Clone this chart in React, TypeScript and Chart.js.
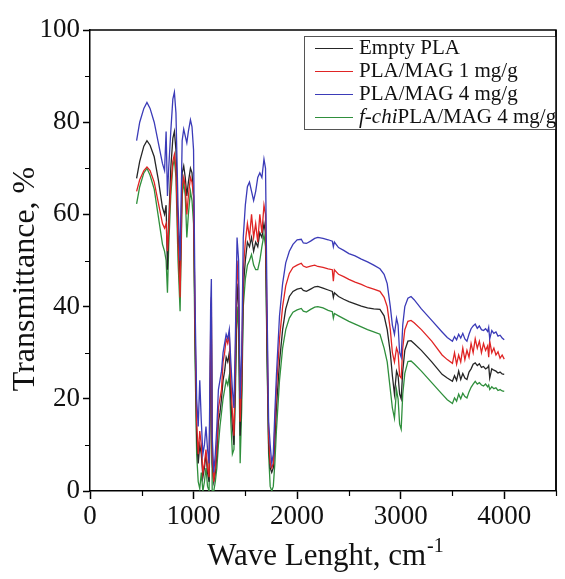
import React, { useEffect, useRef } from 'react';
import { Chart, registerables } from 'chart.js';

Chart.register(...registerables);

// Wavenumber grid (cm-1)
const WAVE = [
  450, 480, 520, 550, 580, 620, 660, 700, 720, 735, 748, 760, 780, 800, 815, 830, 850, 870, 890, 905, 920, 935, 950, 970, 985, 1000,
  1015, 1030, 1045, 1060, 1075, 1090, 1105, 1120, 1135, 1150,
  1165, 1172, 1180, 1195, 1210, 1225, 1240, 1255, 1270, 1285,
  1300, 1315, 1330, 1345, 1360, 1375, 1390, 1405, 1420, 1435,
  1450, 1465, 1480, 1500, 1520, 1540, 1560, 1580, 1600, 1620,
  1640, 1660, 1680, 1695, 1710, 1725, 1740, 1755, 1770, 1785,
  1800,
  1830, 1860, 1890, 1925, 1960, 2000, 2040, 2060, 2090, 2130,
  2170, 2200, 2250, 2300, 2340, 2350, 2360, 2400, 2450, 2500,
  2560, 2620, 2680, 2740, 2800, 2840, 2870, 2900, 2920, 2940,
  2960, 2975, 2990, 3005, 3020, 3040, 3070, 3100, 3130,
  3200, 3300, 3400, 3450, 3500, 3520, 3540, 3560, 3580, 3600,
  3620, 3640, 3660, 3680, 3700, 3720, 3740, 3760, 3780, 3800,
  3820, 3840, 3850, 3860, 3880, 3900, 3920, 3940, 3960, 3980,
  4000,
];

// Empty PLA (black)
const EMPTY_PLA = [
  67.8, 71.5, 74.8, 76, 75, 72.5, 67.5, 61.5, 60, 62, 48, 58, 70, 76.5, 78, 74, 56, 45, 69, 70.5, 68, 64, 67, 70, 69, 64,
  33, 12, 6, 10, 8, 3, 5, 8, 4, 2,
  30, 38, 6, 2, 4, 8, 15, 17, 20, 24,
  26, 29, 28, 30, 20, 14, 10, 26, 45, 40,
  12, 22, 44, 50, 54, 53, 55, 52, 54, 53,
  56, 55, 58, 56, 30, 10, 5, 4, 5, 11,
  18,
  28, 35, 39.5, 42.2, 43.3, 43.8, 44, 43.5, 43.3, 43.8,
  44.3, 44.4, 44, 43.6, 43.3, 42, 43, 42.2, 41.6, 41.1,
  40.6, 40.1, 39.7, 39.5, 39.4, 38, 35, 30, 25, 21,
  26, 25, 21, 20, 26, 30.5, 32.5, 32.6, 32,
  30.5, 28, 25.3, 24.5, 23.8, 25, 24, 26, 24.2, 25.5,
  24.5, 24.2, 25.8, 26.5, 27.5, 27.8, 27.2, 27.6, 26.8, 27,
  26.5, 26.8, 27.2, 24.5, 26.5, 26.2, 26, 25.6, 25.8, 25.4,
  25.3,
];

// PLA/MAG 1 mg/g (red)
const PLA_MAG_1 = [
  65, 67.5, 69.5, 70.3, 69.5, 67, 62.5, 58, 57, 58, 52, 57, 66, 71.5, 73, 70, 54, 42, 66, 68, 66, 60, 64, 68, 67, 64,
  35, 15, 8, 13, 10, 4, 6, 9, 5, 3,
  35, 42, 8, 2, 5, 10, 18, 20, 22, 28,
  30, 33, 32, 34, 24, 17, 12, 30, 50, 44,
  15, 25, 48, 54, 58, 55, 60, 55, 58, 54,
  60, 56, 62, 60, 35, 12, 6, 5, 6, 14,
  22,
  33, 40, 44.5, 47.2, 48.5, 49, 49.4, 48.8, 48.5, 48.8,
  49, 48.7, 48.5, 48.2, 48, 45.5, 48, 47, 46.5, 45.9,
  45.3, 44.8, 44.2, 43.8, 43.3, 42, 40, 35, 30, 28,
  31, 30, 25, 24.5, 31, 35, 36.8, 37, 36.5,
  35, 32.5, 29.5, 28.5, 27.7, 30, 27.5, 29.5, 28, 31,
  28.5, 30.5, 29, 32, 30, 33, 31, 32.5, 30, 32,
  30.5, 31.5, 29, 32.5, 30, 31, 29.5, 30.2, 28.8, 29.5,
  28.6,
];

// PLA/MAG 4 mg/g (blue)
const PLA_MAG_4 = [
  76, 80, 83, 84.3, 83, 80, 75.5, 71, 69.5, 78, 64, 70, 78, 85, 86.5, 82, 62, 50, 76, 78.5, 77, 75.5, 78, 80.5, 79, 74,
  40, 20, 14, 24, 15, 8, 10, 14, 9, 6,
  40, 46, 12, 4, 8, 14, 22, 24, 26, 30,
  32, 34, 33, 35, 28, 22, 18, 35, 55, 50,
  20, 30, 55, 62, 66, 67, 65, 63, 65, 68,
  69, 68, 72, 70, 40, 15, 10, 6, 8, 17,
  25,
  38, 45, 49.5, 52, 53.5, 54.5, 54.6, 53.8, 53.7, 54.2,
  54.8, 55, 54.8, 54.5, 54.2, 53, 54, 52.8, 52.2, 51.5,
  51, 50.3, 49.7, 49, 48.2, 47, 45, 40, 36, 34,
  37.5, 36, 30, 29, 36, 40, 41.8, 42.2, 41.5,
  39.5, 37, 34.5, 33.3, 32.5, 33.5, 32.8, 34, 33.2, 34.2,
  33, 32.5, 34, 35.2, 35.8, 36.2, 35.3, 35.8, 35, 34.8,
  35.2, 34.6, 35.5, 33, 34.8, 34.2, 34.5, 33.6, 33.8, 33.2,
  32.8,
];

// f-chiPLA/MAG 4 mg/g (green)
const FCHI_PLA_MAG_4 = [
  62.3, 66, 69, 70, 68.5, 65.5, 59.5, 53.5, 52, 50, 43, 53, 64, 70.5, 72, 68, 50, 39, 64, 67, 64, 55, 60, 65, 63, 58,
  28, 8, 2, 0.5, 4, 0, 2, 5, 1, 0,
  25, 33, 0, 0, 2, 5, 10, 14, 17, 20,
  22, 24, 23, 25, 15, 8, 9, 22, 40, 35,
  6, 18, 40, 46, 49, 50, 51.3, 49, 48, 48,
  50, 53, 55.6, 53, 28, 8, 1, 0, 1, 6,
  13,
  24, 31, 35, 37.5, 38.8, 39.3, 39.6, 39, 38.8, 39.4,
  39.9, 40, 39.7, 39.2, 38.9, 37.5, 38.5, 38, 37.4, 36.8,
  36.2, 35.6, 35, 34.5, 34, 31, 28, 22, 18, 15.8,
  22, 20, 14.5, 13.4, 21, 25.5, 28.1, 28.2, 27.6,
  26, 23.5, 21, 19.8, 19, 20.2, 19.5, 21, 20, 21.2,
  20.5, 20.2, 21.5, 22.5, 23.2, 23.8, 23.2, 23.5, 23, 22.8,
  23.2, 22.6, 23, 22, 22.6, 22.2, 22.4, 21.8, 22, 21.7,
  21.6,
];

const SERIES_LABELS = ['Empty PLA', 'PLA/MAG 1 mg/g', 'PLA/MAG 4 mg/g', 'f-chiPLA/MAG 4 mg/g'];
const SERIES_COLORS = ['#262626', '#e02424', '#3b3bb8', '#2f8f3c'];
const X_LABELED_TICKS = [0, 1000, 2000, 3000, 4000];
const X_TITLE = 'Wave Lenght, cm';
const X_TITLE_SUP = '-1';
const Y_TITLE = 'Transmittance, %';

const FONT = '"Liberation Serif", "Times New Roman", serif';

const extrasPlugin = {
  id: 'extras',
  afterDraw(chart: any) {
    const { ctx, chartArea: a, scales } = chart;
    ctx.save();
    ctx.strokeStyle = '#000';
    ctx.lineWidth = 1.5;
    // top and right frame
    ctx.beginPath();
    ctx.moveTo(a.left, a.top);
    ctx.lineTo(a.right, a.top);
    ctx.lineTo(a.right, a.bottom);
    ctx.stroke();
    // minor ticks
    ctx.lineWidth = 1.2;
    ctx.beginPath();
    for (let v = 500; v <= 4500; v += 1000) {
      const px = Math.round(scales.x.getPixelForValue(v)) + 0.5;
      ctx.moveTo(px, a.bottom);
      ctx.lineTo(px, a.bottom + 5);
    }
    for (let v = 10; v < 100; v += 20) {
      const py = Math.round(scales.y.getPixelForValue(v)) + 0.5;
      ctx.moveTo(a.left, py);
      ctx.lineTo(a.left - 5, py);
    }
    ctx.stroke();

    // axis titles
    ctx.fillStyle = '#111';
    ctx.font = `31px ${FONT}`;
    const mainW = ctx.measureText(X_TITLE).width;
    ctx.font = `20px ${FONT}`;
    const supW = ctx.measureText(X_TITLE_SUP).width;
    const cx = (a.left + a.right) / 2 + 2;
    const startX = cx - (mainW + supW) / 2;
    ctx.textBaseline = 'alphabetic';
    ctx.textAlign = 'left';
    ctx.font = `31px ${FONT}`;
    ctx.fillText(X_TITLE, startX, 565);
    ctx.font = `20px ${FONT}`;
    ctx.fillText(X_TITLE_SUP, startX + mainW + 1, 552);

    ctx.save();
    ctx.translate(26, 279);
    ctx.rotate(-Math.PI / 2);
    ctx.font = `32px ${FONT}`;
    ctx.textAlign = 'center';
    ctx.textBaseline = 'middle';
    ctx.fillText(Y_TITLE, 0, 0);
    ctx.restore();

    // legend
    const bx = 304, by = 36, bw = 252, bh = 93;
    ctx.fillStyle = '#fff';
    ctx.fillRect(bx, by, bw, bh);
    ctx.strokeStyle = '#555';
    ctx.lineWidth = 1;
    ctx.strokeRect(bx + 0.5, by + 0.5, bw, bh);
    const rows = [48, 71, 94, 117];
    SERIES_LABELS.forEach((label, i) => {
      const y = rows[i];
      ctx.strokeStyle = SERIES_COLORS[i];
      ctx.lineWidth = 1.2;
      ctx.beginPath();
      ctx.moveTo(315, y + 0.5);
      ctx.lineTo(353, y + 0.5);
      ctx.stroke();
      ctx.fillStyle = '#111';
      ctx.textAlign = 'left';
      ctx.textBaseline = 'middle';
      if (label.startsWith('f-chi')) {
        ctx.font = `italic 21px ${FONT}`;
        ctx.fillText('f-chi', 359, y);
        const w = ctx.measureText('f-chi').width;
        ctx.font = `21px ${FONT}`;
        ctx.fillText(label.slice(5), 359 + w, y);
      } else {
        ctx.font = `21px ${FONT}`;
        ctx.fillText(label, 359, y);
      }
    });
    // redraw right frame over legend box
    ctx.strokeStyle = '#000';
    ctx.lineWidth = 1.5;
    ctx.beginPath();
    ctx.moveTo(a.right, a.top);
    ctx.lineTo(a.right, a.bottom);
    ctx.stroke();
    ctx.restore();
  },
};

export default function App() {
  const canvasRef = useRef<HTMLCanvasElement | null>(null);

  useEffect(() => {
    const canvas = canvasRef.current;
    if (!canvas) return;
    const series = [FCHI_PLA_MAG_4, EMPTY_PLA, PLA_MAG_1, PLA_MAG_4];
    const colors = [SERIES_COLORS[3], SERIES_COLORS[0], SERIES_COLORS[1], SERIES_COLORS[2]];
    const labels = [SERIES_LABELS[3], SERIES_LABELS[0], SERIES_LABELS[1], SERIES_LABELS[2]];
    const datasets = series.map((vals, i) => ({
      label: labels[i],
      data: WAVE.map((w, j) => ({ x: w, y: vals[j] })),
      borderColor: colors[i],
      borderWidth: 1.3,
      pointRadius: 0,
      tension: 0,
      fill: false,
      order: 4 - i,
    }));

    const tickFont = { family: FONT, size: 27 };
    const chart = new Chart(canvas, {
      type: 'line',
      data: { datasets },
      plugins: [extrasPlugin],
      options: {
        responsive: false,
        devicePixelRatio: 1,
        animation: false,
        layout: { padding: { left: 0, right: 9, top: 30, bottom: 0 } },
        plugins: { legend: { display: false }, tooltip: { enabled: false } },
        scales: {
          x: {
            type: 'linear',
            min: 0,
            max: 4500,
            afterBuildTicks: (s: any) => {
              s.ticks = X_LABELED_TICKS.map((v) => ({ value: v }));
            },
            ticks: {
              color: '#111',
              font: tickFont,
              padding: 2,
              maxRotation: 0,
              autoSkip: false,
              callback: (_v: any, i: number, ticks: any[]) => String(ticks[i].value),
            },
            grid: { display: true, drawOnChartArea: false, drawTicks: true, tickLength: 8, tickColor: '#000', tickWidth: 1.5 },
            border: { display: true, color: '#000', width: 1.5 },
            afterFit: (s: any) => { s.height = 88; },
          },
          y: {
            type: 'linear',
            min: 0,
            max: 100,
            ticks: { stepSize: 20, color: '#111', font: tickFont, padding: 3 },
            grid: { display: true, drawOnChartArea: false, drawTicks: true, tickLength: 7, tickColor: '#000', tickWidth: 1.5 },
            border: { display: true, color: '#000', width: 1.5 },
            afterFit: (s: any) => { s.width = 90; },
          },
        },
      },
    } as any);
    return () => chart.destroy();
  }, []);

  return (
    <div style={{ position: 'absolute', left: 0, top: 0, width: 565, height: 579, background: '#fff' }}>
      <canvas ref={canvasRef} width={565} height={579} style={{ display: 'block' }} />
    </div>
  );
}
